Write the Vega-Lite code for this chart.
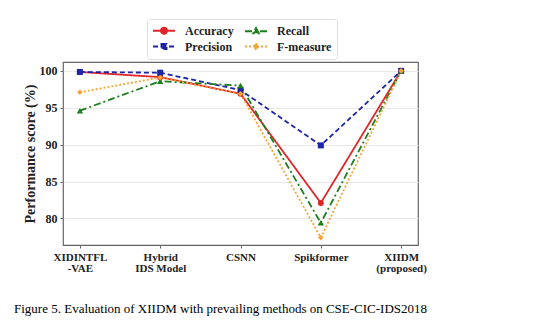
{
  "$schema": "https://vega.github.io/schema/vega-lite/v6.json",
  "autosize": {"type": "none"},
  "width": 355,
  "height": 183,
  "padding": {"left": 63, "top": 62, "right": 134, "bottom": 81},
  "background": "white",
  "title": {
    "text": "Figure 5. Evaluation of XIIDM with prevailing methods on CSE-CIC-IDS2018",
    "orient": "bottom",
    "anchor": "start",
    "font": "Liberation Serif",
    "fontSize": 13,
    "fontWeight": "normal",
    "color": "black",
    "dx": -49,
    "offset": 30,
    "frame": "group"
  },
  "config": {
    "font": "Liberation Serif",
    "view": {"stroke": "#666666", "strokeWidth": 1.2},
    "axis": {
      "labelFont": "Liberation Serif",
      "labelFontWeight": "bold",
      "labelColor": "#222222",
      "titleFont": "Liberation Serif",
      "titleFontWeight": "bold",
      "titleColor": "#222222",
      "domain": false,
      "tickColor": "#666666",
      "tickSize": 3,
      "gridColor": "#e8e8e8",
      "gridWidth": 1
    },
    "legend": {
      "labelFont": "Liberation Serif",
      "labelFontWeight": "bold",
      "labelFontSize": 12,
      "labelColor": "#222222"
    }
  },
  "data": {
    "values": [
      {"model": "XIDINTFL|-VAE", "metric": "Accuracy", "value": 99.85},
      {"model": "Hybrid|IDS Model", "metric": "Accuracy", "value": 99.15},
      {"model": "CSNN", "metric": "Accuracy", "value": 96.9},
      {"model": "Spikformer", "metric": "Accuracy", "value": 82.1},
      {"model": "XIIDM|(proposed)", "metric": "Accuracy", "value": 100},
      {"model": "XIDINTFL|-VAE", "metric": "Precision", "value": 99.85},
      {"model": "Hybrid|IDS Model", "metric": "Precision", "value": 99.75},
      {"model": "CSNN", "metric": "Precision", "value": 97.4},
      {"model": "Spikformer", "metric": "Precision", "value": 89.9},
      {"model": "XIIDM|(proposed)", "metric": "Precision", "value": 100},
      {"model": "XIDINTFL|-VAE", "metric": "Recall", "value": 94.6},
      {"model": "Hybrid|IDS Model", "metric": "Recall", "value": 98.6},
      {"model": "CSNN", "metric": "Recall", "value": 98.0},
      {"model": "Spikformer", "metric": "Recall", "value": 79.4},
      {"model": "XIIDM|(proposed)", "metric": "Recall", "value": 100},
      {"model": "XIDINTFL|-VAE", "metric": "F-measure", "value": 97.1},
      {"model": "Hybrid|IDS Model", "metric": "F-measure", "value": 99.1},
      {"model": "CSNN", "metric": "F-measure", "value": 96.9},
      {"model": "Spikformer", "metric": "F-measure", "value": 77.4},
      {"model": "XIIDM|(proposed)", "metric": "F-measure", "value": 100}
    ]
  },
  "encoding": {
    "x": {
      "field": "model",
      "type": "ordinal",
      "sort": null,
      "scale": {"type": "point", "padding": 0.21},
      "axis": {
        "title": null,
        "labelAngle": 0,
        "labelFontSize": 11,
        "labelLineHeight": 11,
        "labelPadding": 3,
        "labelExpr": "split(datum.label, '|')",
        "grid": false
      }
    },
    "y": {
      "field": "value",
      "type": "quantitative",
      "scale": {"domain": [76.4, 101.2], "nice": false, "zero": false},
      "axis": {
        "title": "Performance score (%)",
        "titleFontSize": 14,
        "titlePadding": 2,
        "labelFontSize": 12,
        "labelPadding": 3,
        "values": [80, 85, 90, 95, 100],
        "grid": true
      }
    },
    "color": {
      "field": "metric",
      "type": "nominal",
      "scale": {
        "domain": ["Accuracy", "Precision", "Recall", "F-measure"],
        "range": ["#e0262b", "#1c24a8", "#1f7d1f", "#f2a63a"]
      },
      "legend": {
        "title": null,
        "values": ["Accuracy", "Recall", "Precision", "F-measure"],
        "orient": "none",
        "legendX": 84,
        "legendY": -43,
        "direction": "horizontal",
        "columns": 2,
        "padding": 5,
        "rowPadding": 1,
        "columnPadding": 7,
        "strokeColor": "#dddddd",
        "cornerRadius": 3,
        "symbolType": "M-1,0L3,0",
        "symbolSize": 121,
        "symbolStrokeWidth": 2,
        "labelOffset": 20,
        "encode": {
          "symbols": {
            "update": {
              "shape": {"signal": "datum.value === 'Accuracy' ? 'M-1,0L3,0M1.55,0A0.55,0.55 0 1 1 0.45,0A0.55,0.55 0 1 1 1.55,0Z' : datum.value === 'Precision' ? 'M-1,0L3,0M0.55,-0.45L1.45,-0.45L1.45,0.45L0.55,0.45Z' : datum.value === 'Recall' ? 'M-1,0L3,0M1,-0.55L1.5,0.4L0.5,0.4Z' : 'M-1,0L3,0M1,-0.6L1.4,0L1,0.6L0.6,0Z'"},
              "fill": {"signal": "scale('color', datum.value)"},
              "strokeDash": {"signal": "datum.value === 'Accuracy' ? [] : datum.value === 'Precision' ? [5, 3] : datum.value === 'Recall' ? [7, 3, 2, 3] : [2, 2]"}
            }
          }
        }
      }
    }
  },
  "layer": [
    {
      "mark": {"type": "line", "strokeWidth": 1.8},
      "encoding": {
        "strokeDash": {
          "field": "metric",
          "type": "nominal",
          "scale": {
            "domain": ["Accuracy", "Precision", "Recall", "F-measure"],
            "range": [[1, 0], [5, 3], [7, 3, 2, 3], [2, 2]]
          },
          "legend": null
        }
      }
    },
    {
      "transform": [{"filter": "datum.metric === 'Accuracy'"}],
      "mark": {"type": "point", "filled": true, "opacity": 1, "shape": "circle", "size": 36}
    },
    {
      "transform": [{"filter": "datum.metric === 'Precision'"}],
      "mark": {"type": "point", "filled": true, "opacity": 1, "shape": "square", "size": 36}
    },
    {
      "transform": [{"filter": "datum.metric === 'Recall'"}],
      "mark": {"type": "point", "filled": true, "opacity": 1, "shape": "triangle-up", "size": 40}
    },
    {
      "transform": [{"filter": "datum.metric === 'F-measure'"}],
      "mark": {"type": "point", "filled": true, "opacity": 1, "shape": "diamond", "size": 32}
    }
  ]
}
